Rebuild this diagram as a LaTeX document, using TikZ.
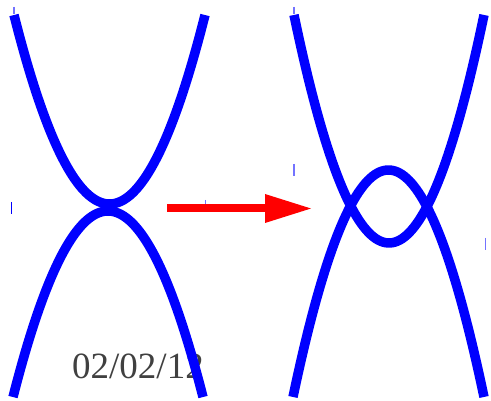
\documentclass[tikz,border=0pt]{standalone}
\usepackage{fontspec}
\setmainfont{Liberation Serif}
\definecolor{curveblue}{RGB}{0,0,255}
\definecolor{datecol}{RGB}{64,64,64}
\tikzset{
  curve/.style={draw=curveblue, line width=9.5pt, line cap=butt},
  tick/.style={draw=curveblue!55, line width=1.1pt},
  darktick/.style={draw=curveblue, line width=1.3pt},
  arrowfill/.style={fill=red, draw=none}
}
\begin{document}
\begin{tikzpicture}[x=1pt,y=-1pt]
\useasboundingbox (0,0) rectangle (491,401);
\fill[white] (0,0) rectangle (491,401);
% date
\node[anchor=base west, inner sep=0pt, text=datecol, font=\fontsize{37}{40}\selectfont] (date) at (72,379) {02/02/12};
% ticks
\draw[tick] (14,7) -- (14,14);
\draw[darktick] (11.5,202) -- (11.5,214);
\draw[tick] (205.7,200) -- (205.7,206);
\draw[tick] (294,7) -- (294,14);
\draw[tick] (294,164) -- (294,176);
\draw[tick] (485.7,238) -- (485.7,250);
% arrow
\fill[arrowfill] (167,204.3) rectangle (266,212.3);
\fill[arrowfill] (265,194) -- (311,208.5) -- (265,223) -- cycle;
% left panel
\draw[curve] plot[domain=14:205, samples=80] (\x, {204 - 0.020723*(\x-109.5)*(\x-109.5)});
\draw[curve] plot[domain=13:203, samples=80] (\x, {211 + 0.02061*(\x-108)*(\x-108)});
% right panel
\draw[curve] plot[domain=294:484, samples=80] (\x, {243 - 0.025263*(\x-389)*(\x-389)});
\draw[curve] plot[domain=293:484, samples=80] (\x, {170 + 0.02489*(\x-388.5)*(\x-388.5)});
\end{tikzpicture}
\end{document}
